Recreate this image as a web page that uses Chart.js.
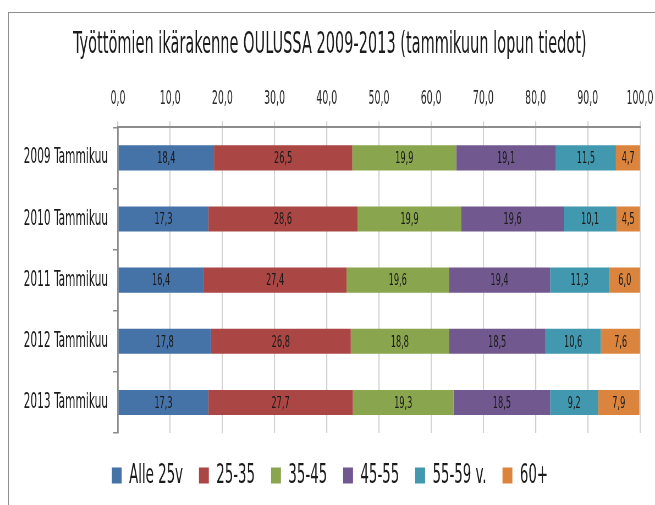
<!DOCTYPE html>
<html>
<head>
<meta charset="utf-8">
<script src="https://cdn.jsdelivr.net/npm/chart.js@4.4.1/dist/chart.umd.min.js"></script>
<style>
  html, body { margin: 0; padding: 0; background: #fff; overflow: hidden; }
  #frame { position: absolute; left: 8px; top: 12px; width: 700px; height: 600px; border: 1px solid #8e8e8e; }
  /* the original picture is a horizontally squeezed Excel chart, so the canvas is squeezed the same way */
  #wrap { position: absolute; left: 0; top: 0; width: 1191px; height: 505px; transform: scaleX(0.54996); transform-origin: 0 0; }
</style>
</head>
<body>
<div id="frame"></div>
<div id="wrap"><canvas id="chart" width="1191" height="505"></canvas></div>
<script>
var FONT = "'DejaVu Sans Condensed', 'Liberation Sans Narrow', sans-serif";

var years = ['2009 Tammikuu', '2010 Tammikuu', '2011 Tammikuu', '2012 Tammikuu', '2013 Tammikuu'];
var groups = ['Alle 25v', '25-35', '35-45', '45-55', '55-59 v.', '60+'];
var colors = ['#4572a7', '#aa4643', '#89a54e', '#71588f', '#4198af', '#db843d'];

var alle25 = [18.4, 17.3, 16.4, 17.8, 17.3];
var g25_35 = [26.5, 28.6, 27.4, 26.8, 27.7];
var g35_45 = [19.9, 19.9, 19.6, 18.8, 19.3];
var g45_55 = [19.1, 19.6, 19.4, 18.5, 18.5];
var g55_59 = [11.5, 10.1, 11.3, 10.6, 9.2];
var g60 = [4.7, 4.5, 6.0, 7.6, 7.9];

var xTicks = [0, 10, 20, 30, 40, 50, 60, 70, 80, 90, 100];

var series = [alle25, g25_35, g35_45, g45_55, g55_59, g60];

function fmt(v) {
	return v.toFixed(1).replace('.', ',');
}

// draws the value in the middle of every bar segment
var barLabels = {
	id: 'barLabels',
	afterDatasetsDraw: function(chart) {
		var ctx = chart.ctx;
		ctx.save();
		ctx.font = '16.5px ' + FONT;
		ctx.fillStyle = '#1b1b1b';
		ctx.textAlign = 'center';
		ctx.textBaseline = 'middle';
		chart.data.datasets.forEach(function(ds, i) {
			var meta = chart.getDatasetMeta(i);
			meta.data.forEach(function(bar, j) {
				var x = (bar.x + bar.base) / 2;
				ctx.fillText(fmt(ds.data[j]), x, bar.y + 1);
			});
		});
		ctx.restore();
	}
};

var datasets = [];
for (var i = 0; i < groups.length; i++) {
	datasets.push({
		label: groups[i],
		data: series[i],
		backgroundColor: colors[i],
		borderWidth: 0,
		barPercentage: 1,
		categoryPercentage: 0.41
	});
}

new Chart(document.getElementById('chart'), {
	type: 'bar',
	data: { labels: years, datasets: datasets },
	plugins: [barLabels],
	options: {
		indexAxis: 'y',
		responsive: false,
		animation: false,
		devicePixelRatio: 1,
		layout: { padding: { top: 12, left: 36, right: 27.4, bottom: 6 } },
		scales: {
			x: {
				position: 'top',
				stacked: true,
				min: 0,
				max: 100,
				afterBuildTicks: function(scale) {
					scale.ticks = xTicks.map(function(v) { return { value: v }; });
				},
				afterFit: function(scale) {
					scale.height = 60.7;
					scale.paddingLeft = 0;
					scale.paddingRight = 0;
				},
				grid: { color: '#d2d2d2', lineWidth: 2.2, tickLength: 6 },
				border: { color: '#8c8c8c', width: 2 },
				ticks: {
					padding: 11,
					color: '#2a2a2a',
					font: { family: FONT, size: 19 },
					callback: function(v) { return fmt(v); }
				}
			},
			y: {
				stacked: true,
				afterFit: function(scale) { scale.width = 178.5; },
				grid: { drawOnChartArea: false, tickLength: 9, color: '#8c8c8c', lineWidth: 1.5 },
				border: { color: '#8c8c8c', width: 2.8 },
				ticks: {
					padding: 9,
					color: '#1b1b1b',
					font: { family: FONT, size: 21.5 }
				}
			}
		},
		plugins: {
			title: {
				display: true,
				text: 'Työttömien ikärakenne OULUSSA 2009-2013 (tammikuun lopun tiedot)',
				color: '#1b1b1b',
				font: { family: FONT, size: 29.4, weight: 'normal' },
				padding: { top: 15.3, bottom: 4 }
			},
			legend: {
				position: 'bottom',
				labels: {
					boxWidth: 18,
					boxHeight: 16,
					padding: 29,
					color: '#1b1b1b',
					font: { family: FONT, size: 27 }
				}
			},
			tooltip: { enabled: false }
		}
	}
});
</script>
</body>
</html>
